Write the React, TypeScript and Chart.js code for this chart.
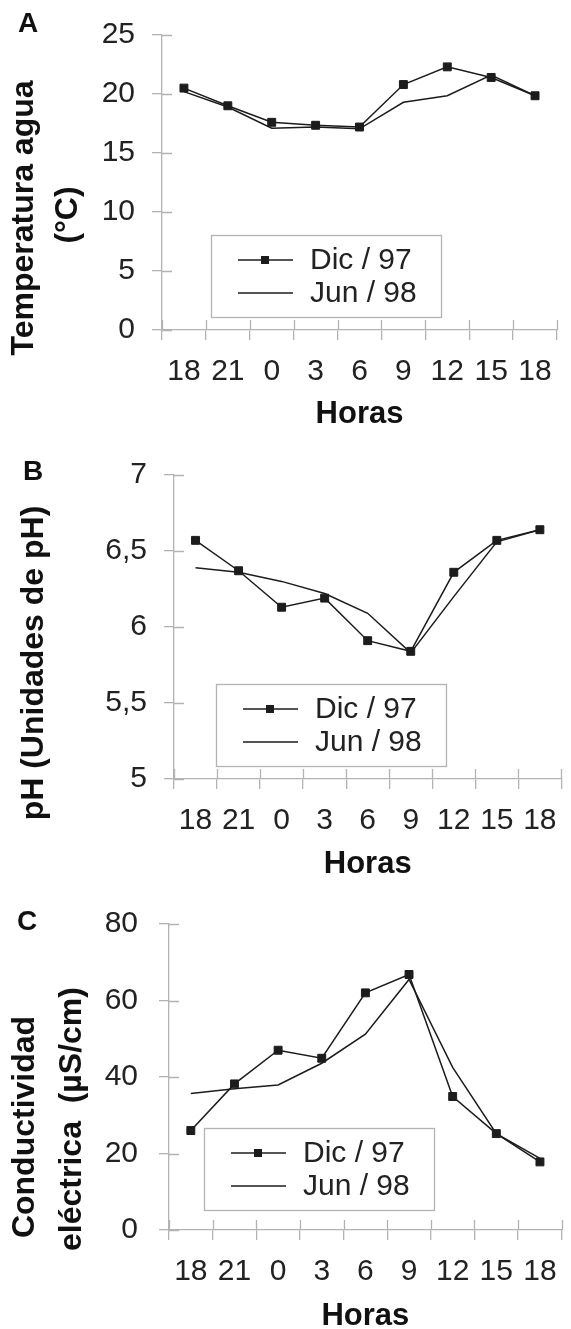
import React, { useEffect, useRef } from 'react';
import { Chart, registerables } from 'chart.js';

Chart.register(...registerables);

// ---- data ----
const hours = ['18', '21', '0', '3', '6', '9', '12', '15', '18'];
const seriesNames = ['Dic / 97', 'Jun / 98'];

const tempDic = [20.5, 19.0, 17.6, 17.35, 17.2, 20.8, 22.3, 21.4, 19.85];
const tempJun = [20.2, 18.9, 17.1, 17.2, 17.05, 19.3, 19.85, 21.6, 19.85];

const phDic = [6.57, 6.37, 6.13, 6.19, 5.91, 5.84, 6.36, 6.57, 6.64];
const phJun = [6.39, 6.36, 6.3, 6.22, 6.09, 5.83, 6.2, 6.56, 6.64];

const condDic = [26.0, 38.2, 47.0, 44.9, 62.0, 66.8, 34.9, 25.2, 17.8];
const condJun = [35.7, 36.9, 37.9, 43.6, 51.2, 65.5, 42.5, 25.2, 18.7];

const xTitle = 'Horas';
const tempTitle = ['Temperatura agua', '(°C)'];
const phTitle = ['pH (Unidades de pH)'];
const condTitle = ['Conductividad', 'eléctrica  (µS/cm)'];

const FONT = '"Liberation Sans", Arial, Helvetica, sans-serif';
const AXIS = '#b3b3b3';
const LINE = '#1c1c1c';
const TEXT = '#222222';

type PanelCfg = {
  letter: string;
  top: number;
  height: number;
  padTop: number;
  padRight: number;
  yAxisW: number;
  xAxisH: number;
  yPad: number;
  min: number;
  max: number;
  step: number;
  dic: number[];
  jun: number[];
  yTitle: string[];
  yTitlePos: [number, number][];
  letterPos: [number, number];
  legendPos: [number, number];
  xTitleY: number;
  decimalComma?: boolean;
};

const panels: PanelCfg[] = [
  {
    letter: 'A', top: 0, height: 440, padTop: 23, padRight: 14, yAxisW: 162, xAxisH: 110, yPad: 17,
    min: 0, max: 25, step: 5, dic: tempDic, jun: tempJun, yTitle: tempTitle,
    yTitlePos: [[24, 218], [68, 215]], letterPos: [18, 32], legendPos: [211, 235], xTitleY: 423,
  },
  {
    letter: 'B', top: 440, height: 445, padTop: 31, padRight: 8, yAxisW: 174, xAxisH: 106, yPad: 17,
    min: 5, max: 7, step: 0.5, dic: phDic, jun: phJun, yTitle: phTitle,
    yTitlePos: [[34, 223]], letterPos: [23, 40], legendPos: [216, 244], xTitleY: 433, decimalComma: true,
  },
  {
    letter: 'C', top: 885, height: 444, padTop: 38, padRight: 6, yAxisW: 169, xAxisH: 99, yPad: 21,
    min: 0, max: 80, step: 20, dic: condDic, jun: condJun, yTitle: condTitle,
    yTitlePos: [[25, 242], [72, 234]], letterPos: [17, 45], legendPos: [204, 243], xTitleY: 440,
  },
];

const innerTicks = {
  id: 'innerTicks',
  afterDraw(chart: any) {
    const { ctx, chartArea } = chart;
    const xs = chart.scales.x;
    const ys = chart.scales.y;
    ctx.save();
    ctx.strokeStyle = AXIS;
    ctx.lineWidth = 1.3;
    ctx.beginPath();
    ys.ticks.forEach((_t: any, i: number) => {
      const py = Math.round(ys.getPixelForTick(i)) + 0.5;
      ctx.moveTo(chartArea.left, py);
      ctx.lineTo(chartArea.left + 10, py);
    });
    const n = xs.getLabels().length;
    for (let i = 0; i <= n; i++) {
      const px = Math.round(xs.getPixelForValue(i - 0.5)) + 0.5;
      ctx.moveTo(px, chartArea.bottom);
      ctx.lineTo(px, chartArea.bottom - 10);
    }
    ctx.stroke();
    ctx.restore();
  },
};

const decor = {
  id: 'decor',
  afterDraw(chart: any) {
    const cfg: PanelCfg = chart.options.plugins.decor.cfg;
    const { ctx, chartArea } = chart;
    ctx.save();
    // panel letter
    ctx.fillStyle = '#111';
    ctx.font = `bold 28px ${FONT}`;
    ctx.textAlign = 'left';
    ctx.textBaseline = 'alphabetic';
    ctx.fillText(cfg.letter, cfg.letterPos[0], cfg.letterPos[1]);
    // y title
    ctx.font = `bold 32px ${FONT}`;
    ctx.textAlign = 'center';
    ctx.textBaseline = 'middle';
    cfg.yTitle.forEach((t, i) => {
      const [cx, cy] = cfg.yTitlePos[i];
      ctx.save();
      ctx.translate(cx, cy);
      ctx.rotate(-Math.PI / 2);
      ctx.fillText(t, 0, 0);
      ctx.restore();
    });
    // x title
    ctx.font = `bold 31px ${FONT}`;
    ctx.textBaseline = 'alphabetic';
    ctx.fillText(xTitle, (chartArea.left + chartArea.right) / 2, cfg.xTitleY);
    // legend
    const [lx, ly] = cfg.legendPos;
    ctx.fillStyle = '#fff';
    ctx.fillRect(lx, ly, 230, 82);
    ctx.strokeStyle = AXIS;
    ctx.lineWidth = 1.3;
    ctx.strokeRect(lx + 0.5, ly + 0.5, 230, 82);
    const rows = [ly + 25, ly + 58];
    rows.forEach((ry, i) => {
      ctx.strokeStyle = LINE;
      ctx.lineWidth = 1.5;
      ctx.beginPath();
      ctx.moveTo(lx + 27, ry);
      ctx.lineTo(lx + 82, ry);
      ctx.stroke();
      if (i === 0) {
        ctx.fillStyle = LINE;
        ctx.fillRect(lx + 54 - 4, ry - 4, 8, 8);
      }
      ctx.fillStyle = TEXT;
      ctx.font = `30px ${FONT}`;
      ctx.textAlign = 'left';
      ctx.textBaseline = 'middle';
      ctx.fillText(seriesNames[i], lx + 99, ry + 1);
    });
    ctx.restore();
  },
};

function Panel({ cfg }: { cfg: PanelCfg }) {
  const ref = useRef<HTMLCanvasElement>(null);
  useEffect(() => {
    const chart = new Chart(ref.current as HTMLCanvasElement, {
      type: 'line',
      data: {
        labels: hours,
        datasets: [
          {
            label: seriesNames[1],
            data: cfg.jun,
            borderColor: LINE,
            borderWidth: 1.5,
            pointRadius: 0,
            tension: 0,
            fill: false,
          },
          {
            label: seriesNames[0],
            data: cfg.dic,
            borderColor: LINE,
            borderWidth: 1.5,
            pointStyle: 'rect',
            pointRadius: 5.6,
            pointBackgroundColor: LINE,
            pointBorderColor: LINE,
            pointBorderWidth: 1,
            tension: 0,
            fill: false,
          },
        ],
      },
      options: {
        animation: false,
        responsive: false,
        layout: { padding: { left: 0, right: cfg.padRight, top: cfg.padTop, bottom: 0 } },
        plugins: {
          legend: { display: false },
          tooltip: { enabled: false },
          decor: { cfg },
        } as any,
        scales: {
          x: {
            type: 'category',
            offset: true,
            grid: { offset: true, drawOnChartArea: false, drawTicks: true, tickLength: 10, color: AXIS, lineWidth: 1.3 },
            border: { display: true, color: AXIS, width: 1.3 },
            ticks: { font: { family: FONT, size: 30 }, color: TEXT, padding: 14, maxRotation: 0, autoSkip: false },
            afterFit: (s: any) => { s.height = cfg.xAxisH; },
          },
          y: {
            min: cfg.min,
            max: cfg.max,
            grid: { drawOnChartArea: false, drawTicks: true, tickLength: 10, color: AXIS, lineWidth: 1.3 },
            border: { display: true, color: AXIS, width: 1.3 },
            ticks: {
              stepSize: cfg.step,
              font: { family: FONT, size: 30 },
              color: TEXT,
              padding: cfg.yPad,
              callback: (v: any) => (cfg.decimalComma ? String(v).replace('.', ',') : String(v)),
            },
            afterFit: (s: any) => { s.width = cfg.yAxisW; },
          },
        },
      },
      plugins: [innerTicks, decor],
    });
    return () => chart.destroy();
  }, [cfg]);
  return (
    <canvas
      ref={ref}
      width={571}
      height={cfg.height}
      style={{ position: 'absolute', left: 0, top: cfg.top, width: 571, height: cfg.height }}
    />
  );
}

export default function App() {
  return (
    <div style={{ position: 'absolute', left: 0, top: 0, width: 571, height: 1329, background: '#fff' }}>
      {panels.map((p) => (
        <Panel key={p.letter} cfg={p} />
      ))}
    </div>
  );
}
